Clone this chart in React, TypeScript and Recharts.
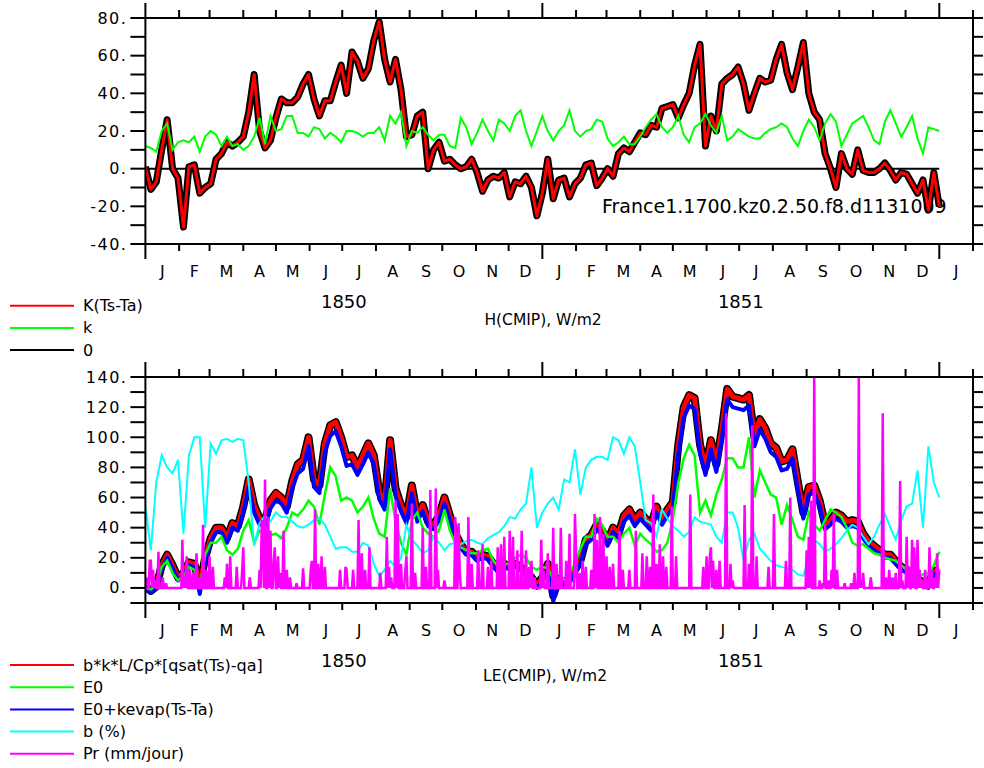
import React from "react";
import { LineChart, Line, XAxis, YAxis } from "recharts";

const FONT = "DejaVu Sans";

// sampling grid: every 5 days from 1 Jan 1850 to 31 Dec 1851
const DAYS = Array.from({ length: 147 }, (_, i) => i * 5);

// H(CMIP) panel, W/m2
const H_KTSTA = [
  1, -11, -7, 10, 26, 0, -5, -31, 1, 2,
  -13, -10, -8, 5, 8, 14, 12, 14, 17, 30,
  50, 20, 11, 15, 27, 37, 35, 35, 38, 45,
  50, 37, 28, 36, 36, 46, 55, 40, 62, 57,
  48, 53, 68, 78, 58, 46, 58, 42, 17, 18,
  28, 30, 0, 10, 14, 4, 5, 2, 0, 1,
  5, -2, -12, -6, -4, -5, -2, -15, -7, -8,
  -4, -10, -25, -13, 5, -16, -6, -5, -15, -8,
  -5, 2, 3, -9, -5, 0, -4, 8, 11, 9,
  14, 19, 18, 23, 22, 32, 33, 34, 27, 34,
  40, 55, 66, 12, 28, 20, 45, 48, 50, 54,
  45, 31, 40, 48, 46, 47, 58, 66, 51, 42,
  54, 67, 40, 30, 26, 8, 0, -10, 8, 0,
  -3, 10, -1, -2, -2, 0, 3, -1, -6, -2,
  -3, -8, -13, -6, -22, -2, -20,
];
const H_K = [
  12, 11, 9, 20, 24, 10, 14, 15, 14, 17,
  9, 17, 20, 18, 12, 17, 12, 13, 10, 12,
  17, 27, 13, 28, 20, 21, 28, 28, 19, 19,
  17, 22, 21, 16, 19, 17, 14, 20, 20, 19,
  17, 19, 19, 22, 15, 28, 24, 30, 12, 20,
  19, 22, 18, 15, 18, 18, 12, 11, 27, 22,
  13, 19, 26, 20, 15, 26, 24, 20, 28, 31,
  20, 12, 20, 28, 20, 15, 20, 23, 31, 20,
  17, 20, 21, 26, 25, 16, 12, 14, 17, 13,
  13, 17, 22, 26, 29, 22, 19, 22, 28, 18,
  14, 22, 24, 29, 23, 19, 28, 15, 17, 21,
  19, 17, 16, 16, 19, 21, 22, 24, 22, 16,
  12, 20, 26, 22, 15, 24, 29, 25, 12, 18,
  24, 26, 28, 22, 15, 13, 25, 31, 24, 17,
  22, 28, 16, 8, 22, 21, 20,
];
const ZERO_LEVEL = 0;

// LE(CMIP) panel, W/m2
const LE_BKL = [
  1, -2, 1, 15, 22, 15, 7, 10, 17, 16,
  2, 20, 33, 40, 40, 33, 43, 41, 54, 72,
  55, 46, 45, 58, 63, 60, 54, 71, 82, 85,
  100, 72, 68, 96, 108, 110, 100, 87, 88, 80,
  88, 96, 88, 64, 56, 98, 66, 55, 47, 68,
  48, 55, 44, 42, 48, 60, 48, 36, 29, 24,
  24, 20, 22, 21, 16, 12, 16, 14, 16, 14,
  10, 7, 2, 7, 16, -5, 6, 4, 6, 12,
  18, 32, 35, 42, 38, 31, 40, 36, 48, 52,
  45, 50, 46, 42, 54, 46, 52, 57, 95, 120,
  128, 126, 95, 80, 98, 82, 105, 132, 127, 126,
  125, 128, 100, 112, 106, 96, 93, 84, 85, 92,
  70, 50, 67, 68, 58, 42, 45, 50, 48, 44,
  45, 44, 36, 31, 28, 25, 22, 22, 18, 14,
  12, 10, 6, 4, 3, 11, 12,
];
const LE_E0KEVAP = [
  0, -3, 0, 13, 20, 13, 5, 8, 15, 14,
  -4, 18, 30, 37, 37, 30, 40, 38, 50, 67,
  50, 42, 41, 53, 58, 56, 50, 66, 76, 79,
  94, 67, 63, 90, 101, 104, 94, 81, 82, 75,
  82, 90, 82, 59, 52, 92, 61, 51, 43, 63,
  44, 51, 41, 39, 45, 56, 45, 33, 27, 22,
  22, 18, 20, 19, 14, 10, 14, 12, 14, 12,
  8, 5, 0, 4, 14, -9, 4, 2, 4, 10,
  16, 29, 32, 39, 35, 28, 37, 33, 44, 48,
  41, 46, 42, 38, 50, 42, 48, 53, 89, 113,
  121, 119, 89, 75, 92, 77, 99, 125, 120, 119,
  118, 121, 94, 105, 99, 90, 87, 78, 79, 86,
  65, 46, 62, 63, 54, 39, 42, 46, 44, 40,
  41, 40, 33, 28, 25, 23, 20, 20, 16, 12,
  10, 8, 4, 1, 0, 9, 10,
];
const LE_E0 = [
  0, -1, 2, 14, 18, 10, 5, 8, 14, 12,
  1, 22, 30, 30, 34, 25, 22, 26, 38, 45,
  30, 38, 36, 35, 36, 33, 40, 50, 48, 52,
  58, 54, 42, 62, 80, 74, 58, 60, 58, 50,
  54, 60, 46, 36, 34, 66, 44, 30, 22, 45,
  50, 40, 36, 34, 38, 52, 38, 30, 27, 25,
  23, 23, 25, 26, 18, 14, 16, 16, 20, 22,
  20, 14, 12, 14, 13, 6, 4, 6, 10, 16,
  26, 34, 34, 46, 42, 34, 34, 30, 36, 40,
  28, 36, 32, 29, 24, 25, 30, 45, 70, 86,
  95, 88, 50, 58, 48, 62, 72, 86, 86, 80,
  80, 100, 60, 78, 70, 62, 60, 42, 55, 45,
  34, 32, 50, 42, 38, 45, 52, 50, 47, 40,
  30, 28, 29, 26, 23, 22, 20, 19, 18, 15,
  12, 8, 7, 9, 10, 15, 24,
];
const LE_B = [
  54, 25, 70, 88, 80, 76, 85, 36, 88, 100,
  100, 40, 96, 89, 98, 99, 97, 99, 98, 70,
  28, 43, 48, 44, 50, 47, 47, 44, 41, 40,
  42, 45, 46, 42, 34, 26, 27, 27, 24, 24,
  30, 28, 16, 8, 12, 18, 14, 20, 42, 32,
  28, 23, 25, 34, 30, 25, 29, 30, 29, 31,
  32, 30, 29, 33, 35, 37, 41, 47, 46, 52,
  56, 80, 40, 50, 56, 60, 52, 72, 70, 92,
  62, 80, 85, 87, 87, 85, 100, 98, 89, 100,
  94, 70, 45, 43, 34, 52, 46, 41, 38, 34,
  37, 47, 44, 43, 42, 34, 30, 50, 50, 40,
  18, 32, 36, 26, 22, 18, 15, 14, 13, 12,
  9, 8, 20, 32, 29, 24, 26, 29, 33, 38,
  42, 40, 34, 29, 34, 42, 49, 40, 32, 45,
  54, 56, 78, 40, 94, 70, 60,
];

// daily precipitation events [day, mm/jour]; other days are dry
const PR_EVENTS: [number, number][] = [
  [1, 7], [4, 18], [5, 18], [7, 12], [9, 5], [12, 24], [16, 7], [19, 3],
  [34, 32], [36, 7], [38, 21], [41, 12], [44, 10], [47, 23], [50, 7], [53, 42],
  [56, 12], [59, 21], [62, 14], [73, 7], [75, 16], [78, 21], [84, 14], [89, 12],
  [90, 27], [96, 7], [105, 12], [107, 45], [108, 38], [110, 72], [113, 47], [115, 38],
  [118, 18], [119, 27], [122, 21], [124, 10], [127, 38], [130, 12], [133, 7], [139, 3],
  [145, 13], [152, 12], [153, 18], [156, 52], [159, 16], [162, 21], [165, 14], [179, 12],
  [184, 14], [185, 12], [191, 12], [196, 45], [199, 23], [202, 12], [206, 27], [216, 10],
  [222, 34], [224, 14], [226, 7], [230, 58], [232, 49], [235, 16], [239, 12], [240, 21],
  [245, 56], [248, 10], [255, 40], [258, 14], [262, 65], [267, 66], [269, 12], [275, 5],
  [285, 47], [288, 43], [289, 12], [297, 47], [300, 16], [306, 25], [310, 29], [315, 14],
  [318, 18], [324, 27], [327, 29], [330, 34], [335, 38], [338, 34], [342, 25], [346, 38],
  [350, 25], [353, 14], [355, 18], [358, 7], [364, 32], [366, 12], [370, 23], [375, 40],
  [378, 16], [382, 40], [387, 18], [390, 36], [395, 49], [396, 25], [399, 10], [402, 18],
  [405, 14], [410, 12], [413, 49], [415, 32], [418, 47], [421, 36], [424, 21], [427, 14],
  [430, 16], [436, 38], [439, 12], [445, 12], [451, 38], [457, 23], [461, 21], [464, 14],
  [467, 62], [470, 16], [473, 29], [476, 21], [479, 14], [484, 54], [488, 21], [501, 62],
  [513, 14], [516, 21], [519, 21], [520, 27], [522, 18], [525, 12], [528, 18], [534, 116],
  [538, 16], [540, 5], [551, 55], [555, 16], [558, 108], [562, 21], [573, 14], [578, 49],
  [589, 18], [593, 60], [608, 25], [610, 34], [612, 58], [615, 140], [620, 5], [623, 3],
  [625, 43], [628, 5], [631, 12], [633, 49], [636, 12], [643, 3], [649, 3], [652, 10],
  [656, 140], [658, 5], [660, 10], [667, 7], [678, 116], [681, 7], [684, 12], [687, 7],
  [690, 10], [694, 71], [696, 5], [700, 34], [702, 14], [705, 32], [707, 27], [710, 32],
  [712, 12], [714, 5], [717, 12], [721, 27], [723, 12], [726, 7], [728, 23], [730, 12],
];

// axis ticks
const TOP_Y_TICKS = [-40, -30, -20, -10, 0, 10, 20, 30, 40, 50, 60, 70, 80];
const BOTTOM_Y_TICKS = [-10, 0, 10, 20, 30, 40, 50, 60, 70, 80, 90, 100, 110, 120, 130, 140];
const MONTH_LETTERS = ["J", "F", "M", "A", "M", "J", "J", "A", "S", "O", "N", "D"];
const MONTH_LENGTHS = [31, 28, 31, 30, 31, 30, 31, 31, 30, 31, 30, 31];
const YEARS = ["1850", "1851"];

const TOP_LEGEND = [
  { label: "K(Ts-Ta)", color: "#ff0000" },
  { label: "k", color: "#00ff00" },
  { label: "0", color: "#000000" },
];
const BOTTOM_LEGEND = [
  { label: "b*k*L/Cp*[qsat(Ts)-qa]", color: "#ff0000" },
  { label: "E0", color: "#00ff00" },
  { label: "E0+kevap(Ts-Ta)", color: "#0000ff" },
  { label: "b (%)", color: "#00ffff" },
  { label: "Pr (mm/jour)", color: "#ff00ff" },
];

// calendar: two years plus January 1852
const monthStarts: number[] = [];
const monthMids: number[] = [];
const monthMidLabels: string[] = [];
let cursor = 0;
for (let y = 0; y < YEARS.length; y++) {
  MONTH_LENGTHS.forEach((len, m) => {
    monthStarts.push(cursor);
    monthMids.push(cursor + len / 2);
    monthMidLabels.push(MONTH_LETTERS[m]);
    cursor += len;
  });
}
const yearStarts = [0, 365, cursor];
monthStarts.push(cursor);
monthMids.push(cursor + MONTH_LENGTHS[0] / 2);
monthMidLabels.push(MONTH_LETTERS[0]);
cursor += MONTH_LENGTHS[0];
monthStarts.push(cursor);
const X_END = cursor;
const yearMids = [182.5, 547.5];
const bottomTicks = [...monthStarts, ...monthMids, ...yearMids].sort((a, b) => a - b);

const topRows = DAYS.map((day, i) => ({ day, kts: H_KTSTA[i], k: H_K[i], zero: ZERO_LEVEL }));
const bottomRows = DAYS.map((day, i) => ({
  day,
  bkl: LE_BKL[i],
  e0: LE_E0[i],
  e0k: LE_E0KEVAP[i],
  b: LE_B[i],
}));
const prMap = new Map(PR_EVENTS);
const prRows = Array.from({ length: 731 }, (_, day) => ({ day, pr: prMap.get(day) ?? 0 }));

const TEXT = { fontFamily: FONT, fill: "#000" };

function BottomTick(props: any) {
  const { x, y, payload } = props;
  const v = payload.value;
  if (monthStarts.includes(v)) {
    const len = yearStarts.includes(v) ? 15 : 7;
    return <line x1={x} x2={x} y1={y} y2={y + len} stroke="#000" strokeWidth={2} />;
  }
  const mi = monthMids.indexOf(v);
  if (mi >= 0) {
    return (
      <text x={x} y={y + 27.5} textAnchor="middle" dominantBaseline="central" fontSize={16} style={TEXT}>
        {monthMidLabels[mi]}
      </text>
    );
  }
  const yi = yearMids.indexOf(v);
  if (yi >= 0) {
    return (
      <text x={x} y={y + 57.5} textAnchor="middle" dominantBaseline="central" fontSize={18} style={TEXT}>
        {YEARS[yi]}
      </text>
    );
  }
  return <g />;
}

function TopTick(props: any) {
  const { x, y, payload } = props;
  const len = yearStarts.includes(payload.value) ? 15 : 8;
  return <line x1={x} x2={x} y1={y} y2={y - len} stroke="#000" strokeWidth={2} />;
}

function LeftTick(props: any) {
  const { x, y, payload } = props;
  const v = payload.value;
  return (
    <g>
      <line x1={x - 15} x2={x} y1={y} y2={y} stroke="#000" strokeWidth={2} />
      {v % 20 === 0 && (
        <text x={x - 18} y={y} textAnchor="end" dominantBaseline="central" fontSize={16} letterSpacing={1.5} style={TEXT}>
          {`${v}.`}
        </text>
      )}
    </g>
  );
}

function RightTick(props: any) {
  const { x, y } = props;
  return <line x1={x} x2={x + 10} y1={y} y2={y} stroke="#000" strokeWidth={2} />;
}

const axisLine = { stroke: "#000", strokeWidth: 2 };

function axes(domain: [number, number], yTicks: number[]) {
  return [
    <XAxis
      key="xb"
      dataKey="day"
      type="number"
      domain={[0, X_END]}
      allowDataOverflow
      ticks={bottomTicks}
      interval={0}
      height={64}
      tickSize={0}
      tickMargin={0}
      tickLine={false}
      axisLine={axisLine}
      tick={BottomTick}
    />,
    <XAxis
      key="xt"
      xAxisId="top"
      orientation="top"
      dataKey="day"
      type="number"
      domain={[0, X_END]}
      allowDataOverflow
      ticks={monthStarts}
      interval={0}
      height={8}
      tickSize={0}
      tickMargin={0}
      tickLine={false}
      axisLine={axisLine}
      tick={TopTick}
    />,
    <YAxis
      key="yl"
      type="number"
      domain={domain}
      allowDataOverflow
      ticks={yTicks}
      interval={0}
      width={60}
      tickSize={0}
      tickMargin={0}
      tickLine={false}
      axisLine={axisLine}
      tick={LeftTick}
    />,
    <YAxis
      key="yr"
      yAxisId="right"
      orientation="right"
      type="number"
      domain={domain}
      allowDataOverflow
      ticks={yTicks}
      interval={0}
      width={11}
      tickSize={0}
      tickMargin={0}
      tickLine={false}
      axisLine={axisLine}
      tick={RightTick}
    />,
  ];
}

function LegendBlock({ items, top }: { items: { label: string; color: string }[]; top: number }) {
  return (
    <g>
      {items.map((it, i) => (
        <g key={it.label}>
          <line x1={10} x2={74} y1={top + i * 22.2} y2={top + i * 22.2} stroke={it.color} strokeWidth={2} />
          <text x={83} y={top + i * 22.2} dominantBaseline="central" fontSize={16} style={TEXT}>
            {it.label}
          </text>
        </g>
      ))}
    </g>
  );
}

export default function App() {
  return (
    <div style={{ position: "absolute", left: 0, top: 0, width: 984, height: 768, background: "#fff" }}>
      <svg width={984} height={768} style={{ position: "absolute", left: 0, top: 0 }}>
        <LegendBlock items={TOP_LEGEND} top={305.7} />
        <LegendBlock items={BOTTOM_LEGEND} top={665} />
        <text x={543} y={320} textAnchor="middle" dominantBaseline="central" fontSize={15.5} style={TEXT}>
          H(CMIP), W/m2
        </text>
        <text x={545} y={676} textAnchor="middle" dominantBaseline="central" fontSize={15.5} style={TEXT}>
          LE(CMIP), W/m2
        </text>
        <text x={602} y={205.5} dominantBaseline="central" fontSize={19} style={TEXT}>
          France1.1700.kz0.2.50.f8.d1131009
        </text>
      </svg>

      <div style={{ position: "absolute", left: 0, top: 0 }}>
        <LineChart width={984} height={328} data={topRows} margin={{ top: 10, right: 0, bottom: 20, left: 85.4 }}>
          {axes([-40, 80], TOP_Y_TICKS)}
          <Line dataKey="kts" type="linear" stroke="#000" strokeWidth={7} strokeLinejoin="round" dot={false} activeDot={false} isAnimationActive={false} />
          <Line dataKey="zero" type="linear" stroke="#000" strokeWidth={2} dot={false} activeDot={false} isAnimationActive={false} />
          <Line dataKey="kts" type="linear" stroke="#ff0000" strokeWidth={3} strokeLinejoin="round" dot={false} activeDot={false} isAnimationActive={false} />
          <Line dataKey="k" type="linear" stroke="#00ff00" strokeWidth={2} dot={false} activeDot={false} isAnimationActive={false} />
        </LineChart>
      </div>

      <div style={{ position: "absolute", left: 0, top: 360 }}>
        <LineChart width={984} height={327} data={bottomRows} margin={{ top: 9, right: 0, bottom: 20, left: 85.4 }}>
          {axes([-10, 140], BOTTOM_Y_TICKS)}
          <Line dataKey="bkl" type="linear" stroke="#000" strokeWidth={8} strokeLinejoin="round" dot={false} activeDot={false} isAnimationActive={false} />
          <Line dataKey="bkl" type="linear" stroke="#ff0000" strokeWidth={5} strokeLinejoin="round" dot={false} activeDot={false} isAnimationActive={false} />
          <Line dataKey="e0k" type="linear" stroke="#0000ff" strokeWidth={4} strokeLinejoin="round" dot={false} activeDot={false} isAnimationActive={false} />
          <Line dataKey="e0" type="linear" stroke="#00ff00" strokeWidth={2.5} dot={false} activeDot={false} isAnimationActive={false} />
          <Line dataKey="b" type="linear" stroke="#00ffff" strokeWidth={2} dot={false} activeDot={false} isAnimationActive={false} />
          <Line data={prRows} dataKey="pr" type="linear" stroke="#ff00ff" strokeWidth={2.5} dot={false} activeDot={false} isAnimationActive={false} />
        </LineChart>
      </div>
    </div>
  );
}
